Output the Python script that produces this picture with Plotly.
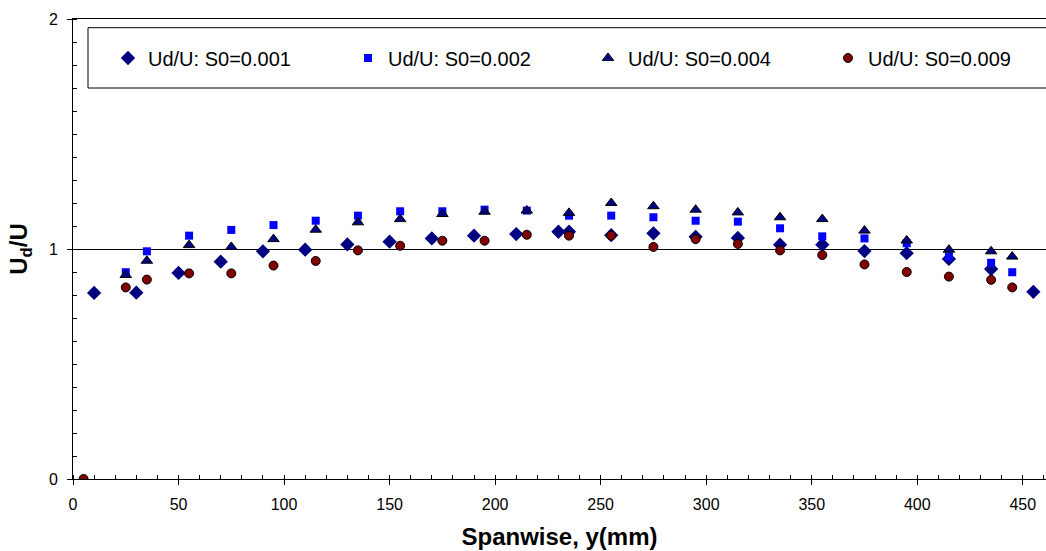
import plotly.graph_objects as go

# ---- data ----
x_001 = [10, 30, 50, 70, 90, 110, 130, 150, 170, 190, 210, 230,
         235, 255, 275, 295, 315, 335, 355, 375, 395, 415, 435, 455]
y_001 = [0.809, 0.81, 0.896, 0.945, 0.99, 0.997, 1.02, 1.032, 1.046, 1.058, 1.065, 1.075,
         1.075, 1.06, 1.068, 1.053, 1.048, 1.019, 1.019, 0.991, 0.982, 0.957, 0.913, 0.814]

x_002 = [25, 35, 55, 75, 95, 115, 135, 155, 175, 195, 215, 235,
         255, 275, 295, 315, 335, 355, 375, 395, 415, 435, 445]
y_002 = [0.899, 0.99, 1.058, 1.083, 1.104, 1.123, 1.145, 1.164, 1.164, 1.171, 1.167, 1.145,
         1.145, 1.138, 1.123, 1.119, 1.09, 1.055, 1.046, 1.025, 0.967, 0.94, 0.899]

x_004 = [25, 35, 55, 75, 95, 115, 135, 155, 175, 195, 215, 235,
         255, 275, 295, 315, 335, 355, 375, 395, 415, 435, 445]
y_004 = [0.887, 0.949, 1.017, 1.009, 1.043, 1.084, 1.116, 1.13, 1.152, 1.162, 1.167, 1.157,
         1.20, 1.186, 1.171, 1.159, 1.138, 1.13, 1.08, 1.037, 0.997, 0.99, 0.967]

x_009 = [5, 25, 35, 55, 75, 95, 115, 135, 155, 175, 195, 215, 235,
         255, 275, 295, 315, 335, 355, 375, 395, 415, 435, 445]
y_009 = [0.0, 0.833, 0.867, 0.894, 0.894, 0.928, 0.948, 0.994, 1.014, 1.036, 1.036, 1.062, 1.058,
         1.058, 1.009, 1.043, 1.022, 0.994, 0.974, 0.933, 0.9, 0.88, 0.866, 0.833]

names = ["Ud/U: S0=0.001", "Ud/U: S0=0.002", "Ud/U: S0=0.004", "Ud/U: S0=0.009"]
x_ticks = [0, 50, 100, 150, 200, 250, 300, 350, 400, 450]
y_ticks = [0, 1, 2]

FONT = "Arial, 'Liberation Sans', sans-serif"

fig = go.Figure()
fig.add_trace(go.Scatter(x=x_001, y=y_001, mode="markers", name=names[0],
                         marker=dict(symbol="diamond", size=11, color="#000080",
                                     line=dict(width=0))))
fig.add_trace(go.Scatter(x=x_002, y=y_002, mode="markers", name=names[1],
                         marker=dict(symbol="square", size=8, color="#0000FF",
                                     line=dict(width=0))))
fig.add_trace(go.Scatter(x=x_004, y=y_004, mode="markers", name=names[2],
                         marker=dict(symbol="triangle-up", size=10, color="#000080",
                                     line=dict(width=1, color="black"))))
fig.add_trace(go.Scatter(x=x_009, y=y_009, mode="markers", name=names[3],
                         marker=dict(symbol="circle", size=9, color="#800000",
                                     line=dict(width=1, color="black"))))

# legend box
fig.add_shape(type="rect", xref="paper", yref="paper",
              x0=(88 - 73) / 973, x1=1.02, y0=(479 - 88) / 460, y1=(479 - 27.7) / 460,
              line=dict(color="black", width=1), fillcolor="white", layer="below")

fig.update_layout(
    width=1046, height=551,
    margin=dict(l=73, r=0, t=19, b=72, autoexpand=False),
    paper_bgcolor="white", plot_bgcolor="white",
    font=dict(family=FONT, size=16, color="black"),
    showlegend=True,
    legend=dict(orientation="h", x=(108 - 73) / 973, y=(479 - 58) / 460,
                xanchor="left", yanchor="middle",
                bgcolor="rgba(0,0,0,0)", borderwidth=0,
                entrywidth=195, entrywidthmode="pixels",
                font=dict(family=FONT, size=20, color="black")),
    xaxis=dict(range=[0, 461], tickvals=x_ticks, ticks="outside", ticklen=5,
               tickcolor="black", showline=True, linecolor="black", linewidth=1,
               mirror=True, showgrid=False, zeroline=False, automargin=False,
               ticklabelstandoff=6,
               minor=dict(dtick=10, ticks="inside", ticklen=4, tickcolor="black", showgrid=False),
               title=dict(text="<b>Spanwise, y(mm)</b>", font=dict(size=24), standoff=15),
               tickfont=dict(size=16)),
    yaxis=dict(range=[0, 2], tickvals=y_ticks, ticks="outside", ticklen=5,
               tickcolor="black", showline=True, linecolor="black", linewidth=1,
               showgrid=True, gridcolor="black", gridwidth=1, zeroline=False, automargin=False,
               ticklabelstandoff=6,
               minor=dict(dtick=0.1, ticks="inside", ticklen=4, tickcolor="black", showgrid=False),
               title=dict(text="<b>U<sub>d</sub>/U</b>", font=dict(size=24), standoff=14),
               tickfont=dict(size=16)),
)

fig.write_html("out.html", config={"displayModeBar": False},
               post_script="document.body.style.margin='0';document.body.style.overflow='hidden';")
